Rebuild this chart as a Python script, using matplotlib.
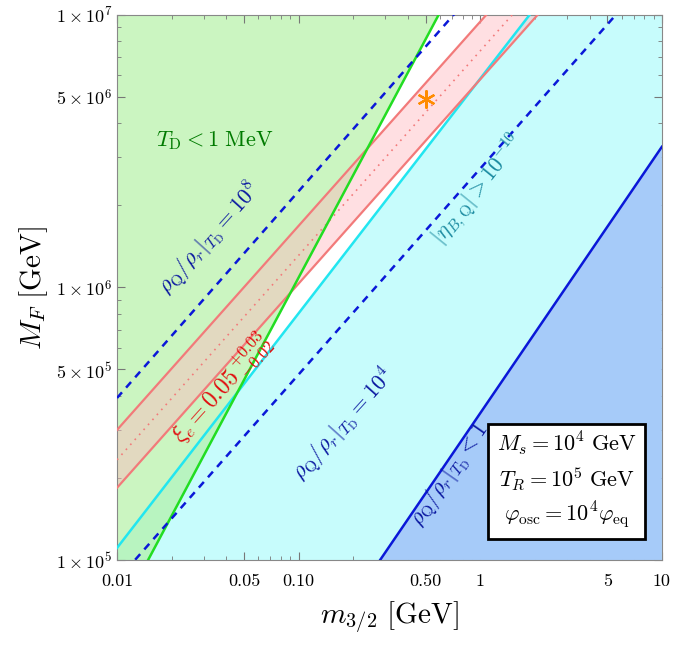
import numpy as np
import matplotlib
matplotlib.use("Agg")
import matplotlib.pyplot as plt
import matplotlib.ticker as ticker

plt.rcParams["font.family"] = "serif"
plt.rcParams["font.serif"] = ["cmr10", "DejaVu Serif"]
plt.rcParams["mathtext.fontset"] = "cm"
plt.rcParams["axes.formatter.use_mathtext"] = True

# line endpoints: (m_3/2 [GeV], M_F [GeV])
dash_1e8 = [(0.01, 3.93e5), (0.713, 1e7)]
red_upper = [(0.01, 3.0e5), (1.08, 1e7)]
red_mid = [(0.01, 2.33e5), (1.5, 1e7)]
red_lower = [(0.01, 1.84e5), (2.07, 1e7)]
cyan_line = [(0.01, 1.107e5), (1.87, 1e7)]
dash_1e4 = [(0.01256, 1e5), (5.58, 1e7)]
green_line = [(0.01483, 1e5), (0.59, 1e7)]
blue_line = [(0.281, 1e5), (10.0, 3.28e6)]
star_pt = (0.5, 4.9e6)

x_ticks = [0.01, 0.05, 0.10, 0.50, 1, 5, 10]
x_labels = ["0.01", "0.05", "0.10", "0.50", "1", "5", "10"]
y_ticks = [1e5, 5e5, 1e6, 5e6, 1e7]
y_labels = [r"$1\times10^5$", r"$5\times10^5$", r"$1\times10^6$",
            r"$5\times10^6$", r"$1\times10^7$"]

xs = np.logspace(-2, 1, 400)
ys = np.logspace(5, 7, 400)


def powerlaw(pts, x):
    (x1, y1), (x2, y2) = pts
    k = np.log10(y2 / y1) / np.log10(x2 / x1)
    return y1 * (x / x1) ** k


def inverse(pts, y):
    (x1, y1), (x2, y2) = pts
    k = np.log10(y2 / y1) / np.log10(x2 / x1)
    return x1 * (y / y1) ** (1 / k)


fig = plt.figure(figsize=(6.74, 6.45), dpi=100)
ax = fig.add_axes([0.1736, 0.1318, 0.8084, 0.8452])
ax.set_xscale("log")
ax.set_yscale("log")
ax.set_xlim(0.01, 10)
ax.set_ylim(1e5, 1e7)

ax.fill_between(xs, 1e5, powerlaw(cyan_line, xs), color="#bdfcfc", alpha=0.85, lw=0, zorder=1)
ax.fill_betweenx(ys, 0.01, inverse(green_line, ys), color="#b0f0a0", alpha=0.65, lw=0, zorder=1.5)
ax.fill_between(xs, 1e5, powerlaw(blue_line, xs), color="#a6cbf9", lw=0, zorder=2)
ax.fill_between(xs, powerlaw(red_lower, xs), powerlaw(red_upper, xs),
                color="#ffb8c0", alpha=0.45, lw=0, zorder=2.5)

ax.plot(xs, powerlaw(cyan_line, xs), color="#22e6f0", lw=1.8, zorder=3)
ax.plot(xs, powerlaw(red_upper, xs), color="#f27a7a", lw=1.6, zorder=3)
ax.plot(xs, powerlaw(red_lower, xs), color="#f27a7a", lw=1.6, zorder=3)
ax.plot(xs, powerlaw(red_mid, xs), color="#f27a7a", lw=1.2, ls=(0, (1, 3)), zorder=3)
ax.plot(xs, powerlaw(green_line, xs), color="#22dd22", lw=1.8, zorder=3)
ax.plot(xs, powerlaw(dash_1e8, xs), color="#0a18d8", lw=1.8, ls=(0, (3, 2.5)), zorder=3)
ax.plot(xs, powerlaw(dash_1e4, xs), color="#0a18d8", lw=1.8, ls=(0, (3, 2.5)), zorder=3)
ax.plot(xs, powerlaw(blue_line, xs), color="#0a18d8", lw=1.8, zorder=3)
ax.plot(*star_pt, marker=(6, 2, 0), color="#ff8c00", ms=13, mew=1.6, zorder=4)

tr = ax.transAxes
ax.text(0.18, 0.77, r"$T_{\rm D} < 1\ {\rm MeV}$", color="#007a00", fontsize=16,
        transform=tr, ha="center", va="center")
ax.text(0.17, 0.59, r"$\rho_{\rm Q}/\rho_r|_{T_{\rm D}} = 10^8$", color="#0a18a0",
        fontsize=16, rotation=48, transform=tr, ha="center", va="center")
ax.text(0.19, 0.315, r"$\xi_e = 0.05\,^{+0.03}_{-0.02}$", color="#e01010",
        fontsize=17, rotation=48, transform=tr, ha="center", va="center")
ax.text(0.662, 0.68, r"$|\eta_{B,{\rm Q}}| > 10^{-10}$", color="#1a8aa0",
        fontsize=16, rotation=51, transform=tr, ha="center", va="center")
ax.text(0.415, 0.248, r"$\rho_{\rm Q}/\rho_r|_{T_{\rm D}} = 10^4$", color="#0a18a0",
        fontsize=16, rotation=48, transform=tr, ha="center", va="center")
ax.text(0.61, 0.156, r"$\rho_{\rm Q}/\rho_r|_{T_{\rm D}} < 1$", color="#0a18a0",
        fontsize=16, rotation=55, transform=tr, ha="center", va="center")
ax.text(0.825, 0.147,
        "$M_s = 10^4\\ {\\rm GeV}$\n$T_R = 10^5\\ {\\rm GeV}$\n$\\varphi_{\\rm osc} = 10^4\\varphi_{\\rm eq}$",
        fontsize=16, transform=tr, ha="center", va="center", linespacing=1.35, zorder=5,
        bbox=dict(boxstyle="square,pad=0.4", fc="white", ec="black", lw=2))

ax.xaxis.set_major_locator(ticker.FixedLocator(x_ticks))
ax.xaxis.set_major_formatter(ticker.FixedFormatter(x_labels))
ax.yaxis.set_major_locator(ticker.FixedLocator(y_ticks))
ax.yaxis.set_major_formatter(ticker.FixedFormatter(y_labels))
ax.xaxis.set_minor_formatter(ticker.NullFormatter())
ax.yaxis.set_minor_formatter(ticker.NullFormatter())
ax.tick_params(which="both", direction="in", top=True, right=True, labelsize=13, color="#777777")
ax.tick_params(axis="x", pad=10)
ax.tick_params(which="major", length=6)
ax.tick_params(which="minor", length=3)
for s in ax.spines.values():
    s.set_edgecolor("#888888")

ax.set_xlabel(r"$m_{3/2}\ [{\rm GeV}]$", fontsize=21, labelpad=8)
ax.set_ylabel(r"$M_F\ [{\rm GeV}]$", fontsize=21)

fig.savefig("out.png", dpi=100)
